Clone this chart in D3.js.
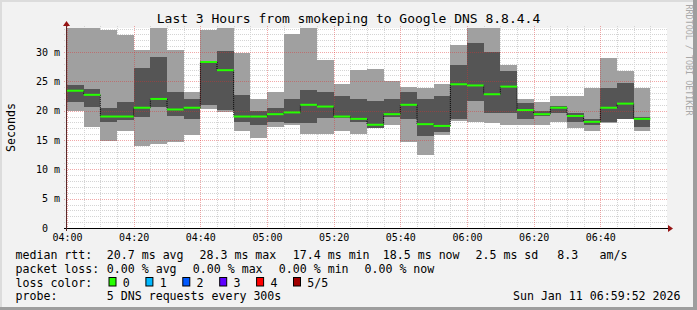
<!DOCTYPE html>
<html>
<head>
<meta charset="utf-8">
<script src="https://cdn.jsdelivr.net/npm/d3@7/dist/d3.min.js"></script>
<style>
  html, body { margin: 0; padding: 0; background: #f2f2f2; }
  svg { display: block; }
  text { font-family: "DejaVu Sans Mono", monospace; }
</style>
</head>
<body>
<script>
// one step every 5 minutes from 04:00, 5 pings per step sorted low to high
var startTime = '2026-01-11 04:00';
var endTime = '2026-01-11 07:00';
var stepMinutes = 5;

var pingMin = [20.0, 17.3, 14.9, 16.5, 14.0, 14.4, 14.7, 15.9, 20.2, 19.7, 16.6, 15.4,
               17.2, 17.5, 16.0, 16.0, 16.6, 16.0, 17.0, 17.6, 14.7, 12.5, 15.9, 18.2,
               18.1, 17.85, 17.6, 17.6, 17.6, 18.1, 17.1, 16.6, 17.95, 18.6, 16.6];
var ping2 = [21.5, 20.7, 18.1, 18.4, 19.0, 20.6, 19.1, 18.5, 21.0, 20.1, 18.1, 17.6,
             18.1, 17.9, 17.95, 18.7, 18.7, 18.1, 17.05, 19.0, 18.6, 15.6, 16.4, 18.6,
             21.65, 19.55, 19.65, 18.6, 19.1, 19.55, 18.1, 17.6, 18.1, 18.6, 17.2];
var medianRtt = [23.4, 22.7, 19.0, 19.0, 20.5, 22.0, 20.2, 20.5, 28.3, 26.9, 19.0, 19.0,
                 19.4, 19.7, 21.0, 20.7, 19.0, 18.6, 17.6, 19.4, 21.0, 17.7, 17.4, 24.5,
                 24.3, 22.8, 24.1, 20.1, 19.4, 20.5, 19.1, 18.1, 20.5, 21.2, 18.6];
var ping4 = [24.4, 23.7, 20.5, 21.5, 27.2, 29.2, 23.2, 22.0, 28.5, 30.2, 22.7, 20.0,
             20.4, 22.0, 23.5, 23.1, 22.5, 22.0, 21.6, 22.0, 23.1, 22.0, 22.5, 27.8,
             31.6, 30.05, 26.8, 21.25, 20.0, 20.8, 19.55, 18.6, 23.9, 24.8, 18.9];
var pingMax = [36.0, 36.0, 33.75, 32.9, 30.3, 36.0, 30.3, 23.1, 33.75, 36.0, 29.9, 22.0,
               23.1, 33.1, 36.0, 28.6, 24.5, 26.9, 27.05, 25.05, 24.1, 23.8, 24.5, 31.2,
               36.0, 36.0, 27.8, 22.0, 21.5, 22.5, 22.5, 23.9, 28.9, 26.8, 23.9];

var xTickLabels = ['04:00', '04:20', '04:40', '05:00', '05:20', '05:40', '06:00', '06:20', '06:40'];
var yTickValues = [0, 5, 10, 15, 20, 25, 30];

var rttStats = ['20.7 ms avg', '28.3 ms max', '17.4 ms min', '18.5 ms now', '2.5 ms sd', '8.3', 'am/s'];
var lossStats = ['0.00 % avg', '0.00 % max', '0.00 % min', '0.00 % now'];
var lossLabels = ['0', '1', '2', '3', '4', '5/5'];
var lossColors = ['#26ff00', '#00b8ff', '#0059ff', '#5e00ff', '#ff0000', '#a10000'];
var probeText = '5 DNS requests every 300s';
var stampText = 'Sun Jan 11 06:59:52 2026';

var W = 697, H = 310;
var plotL = 67, plotR = 667, plotT = 28, plotB = 228;

var parse = d3.utcParse('%Y-%m-%d %H:%M');
var t0 = parse(startTime), t1 = parse(endTime);

var x = d3.scaleUtc().domain([t0, t1]).range([plotL, plotR]);
var y = d3.scaleLinear().domain([0, 34.09]).range([plotB, plotT]);

var steps = medianRtt.map(function(m, i) {
    var s = d3.utcMinute.offset(t0, i * stepMinutes);
    return {
        x0: x(s), x1: x(d3.utcMinute.offset(s, stepMinutes)),
        min: pingMin[i], p2: ping2[i], med: m, p4: ping4[i], max: pingMax[i]
    };
});

var svg = d3.select('body').append('svg').attr('width', W).attr('height', H);

// frame
svg.append('rect').attr('width', W).attr('height', H).attr('fill', '#f2f2f2');
svg.append('rect').attr('x', 0).attr('y', 0).attr('width', W).attr('height', 2).attr('fill', '#dcdcdc');
svg.append('rect').attr('x', 0).attr('y', 0).attr('width', 2).attr('height', H).attr('fill', '#dcdcdc');
svg.append('rect').attr('x', 0).attr('y', H - 3).attr('width', W).attr('height', 3).attr('fill', '#9e9e9e');
svg.append('rect').attr('x', W - 4).attr('y', 0).attr('width', 4).attr('height', H).attr('fill', '#9e9e9e');

svg.append('rect').attr('x', plotL).attr('y', plotT).attr('width', plotR - plotL).attr('height', plotB - plotT)
    .attr('fill', '#ffffff');

svg.append('clipPath').attr('id', 'plot').append('rect')
    .attr('x', plotL).attr('y', plotT).attr('width', plotR - plotL).attr('height', plotB - plotT);

var minorTimes = d3.utcMinute.every(5).range(t0, t1);
var isMajorT = function(d) { return d.getUTCMinutes() % 20 === 0; };
var isMajorV = function(d) { return d % 5 === 0; };

function drawGrid(timeList, valueList, colour) {
    var g = svg.append('g').attr('shape-rendering', 'crispEdges').attr('stroke-dasharray', '1,1')
        .attr('stroke', colour);
    g.selectAll('line.vx').data(timeList).enter().append('line')
        .attr('x1', function(d) { return Math.round(x(d)) + 0.5; })
        .attr('x2', function(d) { return Math.round(x(d)) + 0.5; })
        .attr('y1', plotT - 2).attr('y2', plotB + 2);
    g.selectAll('line.hy').data(valueList).enter().append('line')
        .attr('x1', plotL - 3).attr('x2', plotR)
        .attr('y1', function(d) { return Math.round(y(d)) + 0.5; })
        .attr('y2', function(d) { return Math.round(y(d)) + 0.5; });
}

// minor grid sits under the smoke
drawGrid(minorTimes.filter(function(d) { return !isMajorT(d); }),
         d3.range(1, 35).filter(function(d) { return !isMajorV(d); }), '#d4d4d4');

// smoke
var smoke = svg.append('g').attr('clip-path', 'url(#plot)');
smoke.selectAll('rect.outer').data(steps).enter().append('rect')
    .attr('class', 'outer')
    .attr('x', function(d) { return d.x0; })
    .attr('width', function(d) { return d.x1 - d.x0; })
    .attr('y', function(d) { return y(d.max); })
    .attr('height', function(d) { return y(d.min) - y(d.max); })
    .attr('fill', '#a0a0a0')
    .attr('shape-rendering', 'crispEdges');
smoke.selectAll('rect.inner').data(steps).enter().append('rect')
    .attr('class', 'inner')
    .attr('x', function(d) { return d.x0; })
    .attr('width', function(d) { return d.x1 - d.x0; })
    .attr('y', function(d) { return y(d.p4); })
    .attr('height', function(d) { return y(d.p2) - y(d.p4); })
    .attr('fill', '#555555')
    .attr('shape-rendering', 'crispEdges');

// major grid shows through the smoke
drawGrid(minorTimes.filter(isMajorT), d3.range(5, 35, 5), 'rgba(222,48,48,0.42)');

// median: dotted risers, then green steps
var med = svg.append('g').attr('clip-path', 'url(#plot)');
med.selectAll('line.riser').data(steps.slice(1)).enter().append('line')
    .attr('x1', function(d) { return d.x0; }).attr('x2', function(d) { return d.x0; })
    .attr('y1', function(d, i) { return y(steps[i].med); })
    .attr('y2', function(d) { return y(d.med); })
    .attr('stroke', '#000').attr('stroke-dasharray', '1,1');
med.selectAll('line.step').data(steps).enter().append('line')
    .attr('x1', function(d) { return d.x0; }).attr('x2', function(d) { return d.x1; })
    .attr('y1', function(d) { return y(d.med); }).attr('y2', function(d) { return y(d.med); })
    .attr('stroke', lossColors[0]).attr('stroke-width', 2);

// axes
svg.append('line').attr('x1', plotL - 3).attr('x2', plotR + 2).attr('y1', plotB + 0.5).attr('y2', plotB + 0.5)
    .attr('stroke', '#000');
svg.append('line').attr('x1', plotL - 0.5).attr('x2', plotL - 0.5).attr('y1', plotB + 3).attr('y2', plotT - 3)
    .attr('stroke', '#5a2a2a');
svg.append('path').attr('d', 'M668,225L673,228.5L668,232Z').attr('fill', '#961414');
svg.append('path').attr('d', 'M63,26L66.5,21L70,26Z').attr('fill', '#961414');

var xAxis = d3.axisBottom(x)
    .tickValues(xTickLabels.map(function(s) { return parse('2026-01-11 ' + s); }))
    .tickFormat(d3.utcFormat('%H:%M'))
    .tickSize(0).tickPadding(5.5);
svg.append('g').attr('transform', 'translate(0,' + plotB + ')').call(xAxis)
    .attr('font-family', 'DejaVu Sans Mono').attr('font-size', 10)
    .call(function(g) { g.select('.domain').remove(); });

var yAxis = d3.axisLeft(y).tickValues(yTickValues)
    .tickFormat(function(d) { return d ? d + ' m' : '0  '; })
    .tickSize(0).tickPadding(7);
svg.append('g').attr('transform', 'translate(' + plotL + ',0)').call(yAxis)
    .attr('font-family', 'DejaVu Sans Mono').attr('font-size', 10)
    .call(function(g) { g.select('.domain').remove(); })
    .selectAll('text').style('white-space', 'pre');

// titles
svg.append('text').attr('x', 348.5).attr('y', 23).attr('text-anchor', 'middle')
    .attr('font-size', 13).text('Last 3 Hours from smokeping to Google DNS 8.8.4.4');
svg.append('text').attr('transform', 'translate(14.5,127.5) rotate(-90)').attr('text-anchor', 'middle')
    .attr('font-size', 11.6).text('Seconds');
svg.append('text').attr('transform', 'translate(686,60) rotate(90)').attr('text-anchor', 'middle')
    .attr('font-size', 8.4).attr('fill', '#a8a8a8').text('RRDTOOL / TOBI OETIKER');

// legend
var lg = svg.append('g').attr('font-size', 11.6).style('white-space', 'pre');
lg.append('text').attr('x', 15.5).attr('y', 258.5).text('median rtt:');
var rttX = [106.8, 199.5, 292.8, 382.8, 475.5, 557.2, 599.5];
rttStats.forEach(function(s, i) { lg.append('text').attr('x', rttX[i]).attr('y', 258.5).text(s); });

lg.append('text').attr('x', 15.5).attr('y', 272.5).text('packet loss:');
var lossX = [106.8, 192.8, 278.8, 364.5];
lossStats.forEach(function(s, i) { lg.append('text').attr('x', lossX[i]).attr('y', 272.5).text(s); });

lg.append('text').attr('x', 15.5).attr('y', 286.5).text('loss color:');
lossLabels.forEach(function(s, i) {
    var bx = 108.5 + i * 36.9;
    lg.append('rect').attr('x', bx + 0.5).attr('y', 277.5).attr('width', 7).attr('height', 8.5)
        .attr('fill', lossColors[i]).attr('stroke', '#000');
    lg.append('text').attr('x', bx + 14.3).attr('y', 286.5).text(s);
});

lg.append('text').attr('x', 15.5).attr('y', 300).text('probe:');
lg.append('text').attr('x', 106.8).attr('y', 300).text(probeText);
lg.append('text').attr('x', 680.5).attr('y', 300).attr('text-anchor', 'end').text(stampText);
</script>
</body>
</html>
